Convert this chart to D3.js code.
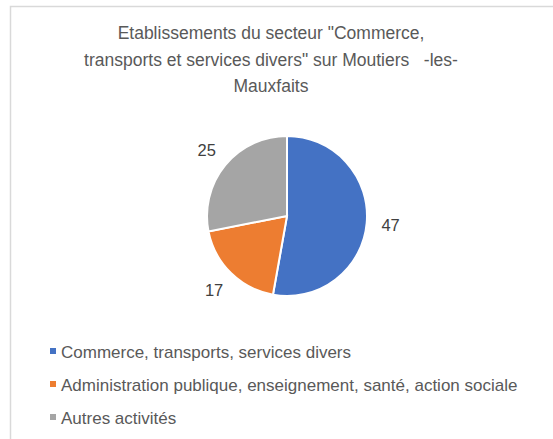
<!DOCTYPE html>
<html>
<head>
<meta charset="utf-8">
<script src="https://cdn.jsdelivr.net/npm/d3@7"></script>
<style>
  html, body { margin: 0; padding: 0; background: #fff; }
  svg { display: block; }
  .title tspan { white-space: pre; }
</style>
</head>
<body>
<svg id="chart" width="553" height="439"></svg>
<script>
const titleLines = ["Etablissements du secteur \"Commerce,", "transports et services divers\" sur Moutiers   -les-", "Mauxfaits"];
const categories = ["Commerce, transports, services divers", "Administration publique, enseignement, santé, action sociale", "Autres activités"];
const values = [47, 17, 25];
const colors = ["#4472C4", "#ED7D31", "#A5A5A5"];

const svg = d3.select("#chart");
const font = "'Liberation Sans', Arial, sans-serif";

// frame
svg.append("rect").attr("x", 10.5).attr("y", 6.5).attr("width", 560).attr("height", 450)
  .attr("fill", "#fff").attr("stroke", "#d9d9d9").attr("stroke-width", 1.5);

// title
const title = svg.append("text").attr("class", "title").attr("text-anchor", "middle")
  .attr("xml:space", "preserve")
  .attr("font-family", font).attr("font-size", 17.5).attr("fill", "#595959");
titleLines.forEach((t, i) => {
  title.append("tspan").attr("x", 271).attr("y", 39 + i * 26.5).text(t);
});

// pie
const cx = 287, cy = 216, r = 80;
const pie = d3.pie().sort(null).value(d => d)(values);
const arc = d3.arc().innerRadius(0).outerRadius(r);
const labelArc = d3.arc().innerRadius(r + 24).outerRadius(r + 24);
const g = svg.append("g").attr("transform", `translate(${cx},${cy})`);
g.selectAll("path").data(pie).join("path")
  .attr("d", arc).attr("fill", (d, i) => colors[i])
  .attr("stroke", "#fff").attr("stroke-width", 2);
g.selectAll("text").data(pie).join("text")
  .attr("transform", d => `translate(${labelArc.centroid(d)})`)
  .attr("text-anchor", "middle").attr("dy", "0.35em")
  .attr("font-family", font).attr("font-size", 16.5).attr("fill", "#404040")
  .text(d => d.data);

// legend
const leg = svg.append("g");
const items = leg.selectAll("g").data(categories).join("g")
  .attr("transform", (d, i) => `translate(50, ${358 + i * 33})`);
items.append("rect").attr("x", 0).attr("y", -10).attr("width", 6).attr("height", 6)
  .attr("fill", (d, i) => colors[i]);
items.append("text").attr("x", 11).attr("y", 0)
  .attr("font-family", font).attr("font-size", 17).attr("fill", "#595959")
  .text(d => d);
</script>
</body>
</html>
